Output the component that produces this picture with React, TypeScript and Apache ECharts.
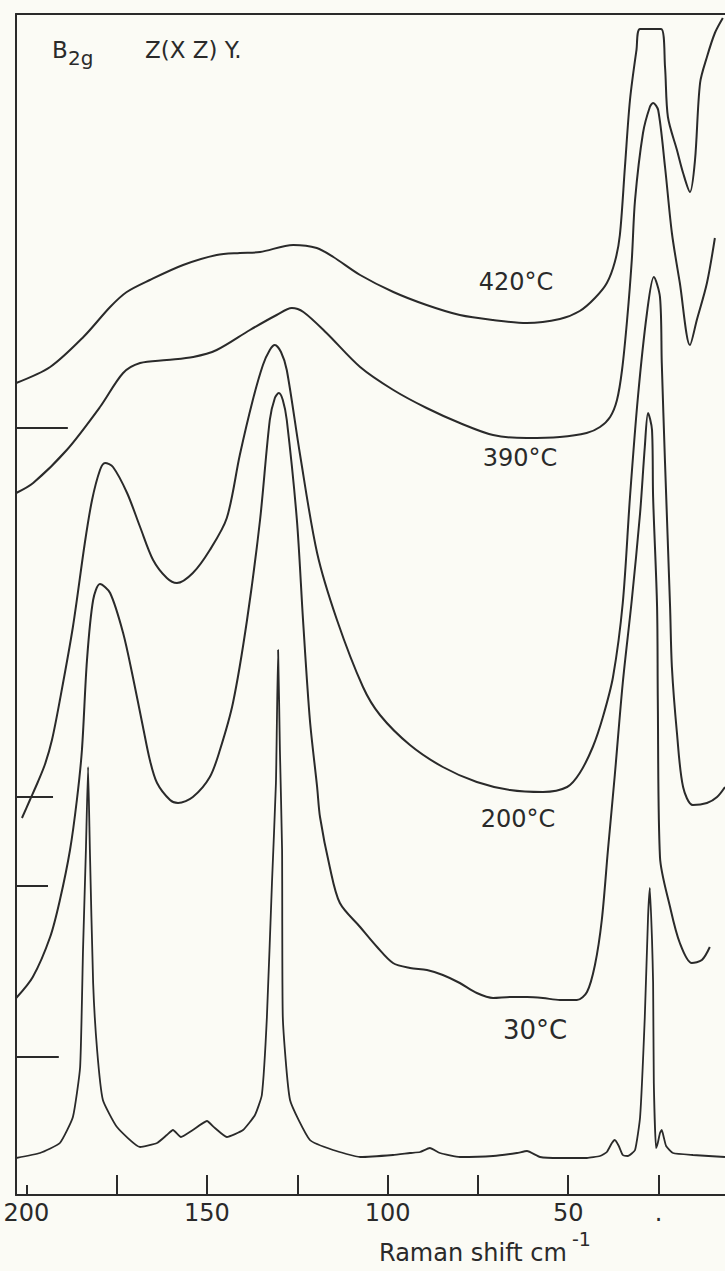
import React, { useEffect, useRef } from "react";
import * as echarts from "echarts";

// Raman shift (cm^-1) vs intensity (arbitrary units, spectra offset vertically)
const curve420: number[][] = [
  [202.8, 81.2], [193.4, 82.8], [184.2, 85.8], [176.8, 88.8], [172.2, 90.3], [165.8, 91.5],
  [156.6, 93.0], [147.3, 94.0], [140.9, 94.2], [135.3, 94.3], [126.1, 95.0], [119.6, 94.7],
  [115.0, 93.8], [107.6, 92.0], [98.4, 90.3], [89.2, 89.0], [80.0, 88.0], [70.8, 87.5],
  [61.5, 87.2], [52.3, 87.6], [46.8, 88.4], [42.6, 89.7], [39.3, 91.2], [37.1, 93.3],
  [35.7, 96.0], [34.3, 102.8], [32.9, 109.5], [31.1, 114.5], [30.1, 116.6], [24.3, 116.6],
  [23.2, 112.8], [22.4, 107.8], [19.9, 104.5], [18.2, 102.2], [16.3, 100.3], [14.9, 103.5],
  [13.5, 111.2], [11.6, 113.8], [9.4, 116.2], [7.2, 117.7],
];

const curve390: number[][] = [
  [202.8, 70.2], [198.1, 71.2], [188.8, 74.5], [179.6, 78.8], [173.2, 82.2], [168.5, 83.2],
  [161.1, 83.5], [153.8, 83.8], [147.3, 84.5], [138.1, 86.5], [130.7, 88.0], [126.5, 88.7],
  [123.3, 88.3], [116.9, 86.2], [107.6, 82.8], [98.4, 80.5], [89.2, 78.7], [80.0, 77.2],
  [70.8, 76.0], [61.5, 75.7], [52.3, 75.8], [44.9, 76.2], [41.2, 76.8], [38.4, 77.8],
  [36.5, 79.5], [35.1, 82.5], [33.7, 87.5], [32.4, 93.5], [31.5, 99.5], [29.3, 106.2],
  [27.4, 108.8], [26.5, 109.2], [25.1, 108.5], [23.2, 102.8], [21.3, 96.2], [19.1, 91.2],
  [16.3, 85.0], [14.4, 87.5], [11.6, 91.2], [9.4, 95.7],
];

const curve200: number[][] = [
  [201.2, 37.7], [199.0, 39.5], [196.8, 41.3], [194.8, 43.1], [192.9, 45.5], [190.7, 49.5],
  [187.1, 56.8], [183.8, 65.2], [181.8, 69.5], [179.6, 72.5], [178.2, 73.2], [176.0, 72.8],
  [172.1, 70.2], [168.5, 66.8], [164.9, 63.5], [161.1, 61.7], [158.3, 61.2], [153.9, 62.2],
  [149.2, 64.5], [144.5, 67.7], [140.9, 74.0], [137.3, 79.5], [134.5, 83.0], [132.6, 84.5],
  [131.2, 85.0], [129.5, 84.3], [127.9, 82.5], [124.3, 74.2], [119.5, 64.2], [114.0, 57.5],
  [106.8, 50.8], [102.1, 48.0], [93.8, 45.0], [84.7, 42.8], [75.3, 41.3], [66.1, 40.5],
  [57.0, 40.3], [50.3, 40.8], [46.8, 42.2], [43.2, 44.8], [40.4, 47.8], [37.6, 51.8],
  [34.9, 59.2], [32.9, 69.8], [30.7, 79.8], [28.2, 88.2], [26.3, 91.8], [24.6, 89.8],
  [24.1, 83.2], [23.2, 73.2], [21.8, 58.8], [21.3, 52.8], [19.9, 46.2], [18.2, 40.8],
  [15.5, 39.0], [11.6, 39.2], [8.8, 39.8], [6.6, 40.8],
];

const curve30: number[][] = [
  [202.8, 19.7], [198.2, 21.8], [193.4, 25.8], [190.7, 29.5], [187.9, 34.5], [186.0, 39.5],
  [184.6, 44.5], [183.2, 53.5], [181.5, 59.5], [179.6, 61.1], [176.8, 60.2], [173.2, 56.2],
  [170.5, 51.8], [167.7, 46.8], [165.8, 43.5], [163.8, 41.2], [160.2, 39.5], [158.0, 39.2],
  [153.9, 39.8], [149.2, 41.8], [146.4, 44.5], [142.8, 49.2], [138.9, 57.5], [135.3, 67.5],
  [132.6, 77.5], [131.2, 79.7], [130.1, 80.2], [129.0, 79.5], [127.9, 77.5], [125.1, 67.5],
  [123.4, 57.5], [121.5, 47.5], [119.5, 40.8], [118.7, 37.8], [116.0, 32.8], [113.2, 29.2],
  [107.6, 26.8], [102.9, 24.8], [98.5, 23.2], [93.8, 22.7], [89.1, 22.5], [84.7, 22.0],
  [80.0, 21.2], [75.3, 20.2], [70.8, 19.7], [66.1, 19.8], [61.4, 19.8], [57.0, 19.7],
  [52.3, 19.5], [47.6, 19.5], [44.8, 20.3], [42.6, 23.0], [40.7, 27.5], [39.0, 34.5],
  [37.1, 42.0], [34.9, 51.2], [32.4, 59.5], [30.1, 68.2], [28.8, 74.8], [27.9, 78.2],
  [26.8, 76.5], [26.5, 69.8], [25.4, 58.8], [25.2, 49.5], [24.6, 33.8], [21.8, 28.8],
  [19.1, 25.2], [15.8, 23.2], [13.0, 23.5], [10.8, 24.8],
];

const curveBottom: number[][] = [
  [202.8, 3.7], [196.2, 4.2], [190.7, 5.2], [187.1, 7.8], [185.1, 12.8], [184.3, 24.5],
  [183.5, 34.5], [182.9, 42.8], [182.4, 34.5], [181.5, 21.2], [180.4, 14.5], [178.8, 9.5],
  [174.9, 6.8], [168.5, 4.8], [163.8, 5.2], [161.1, 6.0], [159.4, 6.5], [157.2, 5.8],
  [153.9, 6.5], [150.0, 7.4], [147.8, 6.7], [144.5, 5.8], [140.0, 6.5], [136.7, 8.0],
  [134.8, 10.0], [133.4, 17.8], [132.0, 31.2], [130.9, 41.2], [130.3, 54.5], [129.8, 44.5],
  [129.2, 34.5], [129.0, 17.8], [127.0, 9.5], [121.5, 5.5], [115.1, 4.5], [107.6, 3.8],
  [98.5, 4.0], [93.8, 4.2], [91.0, 4.3], [88.3, 4.7], [85.5, 4.2], [80.0, 3.8],
  [70.8, 3.9], [64.2, 4.2], [61.4, 4.4], [57.8, 3.8], [52.3, 3.7], [44.8, 3.7],
  [41.2, 3.9], [39.3, 4.3], [37.9, 5.2], [37.1, 5.5], [36.0, 4.9], [34.9, 4.0],
  [33.5, 3.9], [31.5, 4.5], [30.1, 7.8], [28.8, 17.8], [27.9, 27.8], [27.4, 30.7],
  [26.8, 25.5], [26.5, 21.2], [26.3, 11.2], [25.7, 4.7], [25.2, 5.2], [24.6, 6.2],
  [24.1, 6.5], [23.5, 5.7], [22.9, 4.9], [21.0, 4.2], [15.5, 4.0], [6.6, 3.8],
];

// zero-level marks on the left axis: [level, shift where the mark ends]
const baselineLevels = [76.7, 39.8, 30.9, 13.8];
const baselineEnds = [188.5, 192.6, 194.0, 191.0];

const tickValues = [175, 150, 125, 100, 75, 50, 25];
const shortTickValues = [200];
const labelValues = [200, 150, 100, 50, 25];
const labelTexts = ["200", "150", "100", "50", "."];

const X_MIN = 6.6;
const X_MAX = 202.85;
const Y_MAX = 118.1;

const INK = "#2a2a2a";
const BG = "#fbfbf5";
const FONT = "DejaVu Sans";

export default function App() {
  const ref = useRef<HTMLDivElement>(null);

  useEffect(() => {
    if (!ref.current) return;
    const chart = echarts.init(ref.current, undefined, { renderer: "svg" });

    const lineSeries = (data: number[][], smooth: number, width = 2) => ({
      type: "line",
      data,
      symbol: "none",
      showSymbol: false,
      smooth,
      lineStyle: { color: INK, width },
      silent: true,
    });

    const marks = baselineLevels.map((lv, i) => ({
      type: "line",
      data: [
        [X_MAX, lv],
        [baselineEnds[i], lv],
      ],
      symbol: "none",
      lineStyle: { color: INK, width: 2 },
      silent: true,
    }));

    const axisLineStyle = { color: INK, width: 2 };

    const txt = (text: string, x: number, y: number, size: number, align = "center") => ({
      type: "text",
      x,
      y,
      style: {
        text,
        fill: INK,
        font: `${size}px "${FONT}"`,
        textAlign: align,
        textVerticalAlign: "middle",
      },
      silent: true,
    });

    const hiddenAxis = (position: string, extra: any = {}) => ({
      type: "value",
      min: X_MIN,
      max: X_MAX,
      inverse: true,
      position,
      axisLine: { show: false },
      axisTick: { show: false },
      axisLabel: { show: false },
      splitLine: { show: false },
      ...extra,
    });

    chart.setOption({
      animation: false,
      backgroundColor: BG,
      grid: { left: 16, right: 0, top: 14, bottom: 76, show: false, outerBoundsMode: "none" },
      xAxis: [
        {
          type: "value",
          min: X_MIN,
          max: X_MAX,
          inverse: true,
          position: "bottom",
          axisLine: { show: true, onZero: false, lineStyle: axisLineStyle },
          axisTick: {
            show: true,
            inside: true,
            length: 20,
            customValues: tickValues,
            lineStyle: axisLineStyle,
          },
          axisLabel: {
            show: true,
            customValues: labelValues,
            formatter: (v: number) => {
              const i = labelValues.indexOf(v);
              return i >= 0 ? labelTexts[i] : "";
            },
            fontFamily: FONT,
            fontSize: 24,
            color: INK,
            margin: 6,
          },
          splitLine: { show: false },
        },
        hiddenAxis("top", {
          axisLine: { show: true, onZero: false, lineStyle: axisLineStyle },
        }),
        hiddenAxis("bottom", {
          axisTick: {
            show: true,
            inside: true,
            length: 10,
            customValues: shortTickValues,
            lineStyle: axisLineStyle,
          },
        }),
      ],
      yAxis: {
        type: "value",
        min: 0,
        max: Y_MAX,
        axisLine: { show: true, onZero: false, lineStyle: axisLineStyle },
        axisTick: { show: false },
        axisLabel: { show: false },
        splitLine: { show: false },
      },
      series: [
        lineSeries(curve420, 0.3),
        lineSeries(curve390, 0.3),
        lineSeries(curve200, 0.3),
        lineSeries(curve30, 0.3),
        lineSeries(curveBottom, 0.15, 1.8),
        ...marks,
      ],
      graphic: [
        txt("B", 52, 50, 23, "left"),
        txt("2g", 68, 58, 20, "left"),
        txt("Z(X Z) Y.", 145, 50, 23, "left"),
        txt("420°C", 516, 282, 24),
        txt("390°C", 520, 458, 24),
        txt("200°C", 518, 819, 24),
        txt("30°C", 535, 1030, 26),
        txt("Raman shift cm", 379, 1253, 24, "left"),
        txt("-1", 572, 1239, 19, "left"),
      ],
    });

    return () => chart.dispose();
  }, []);

  return (
    <div
      ref={ref}
      style={{ position: "fixed", left: 0, top: 0, width: 725, height: 1271, background: BG }}
    />
  );
}
